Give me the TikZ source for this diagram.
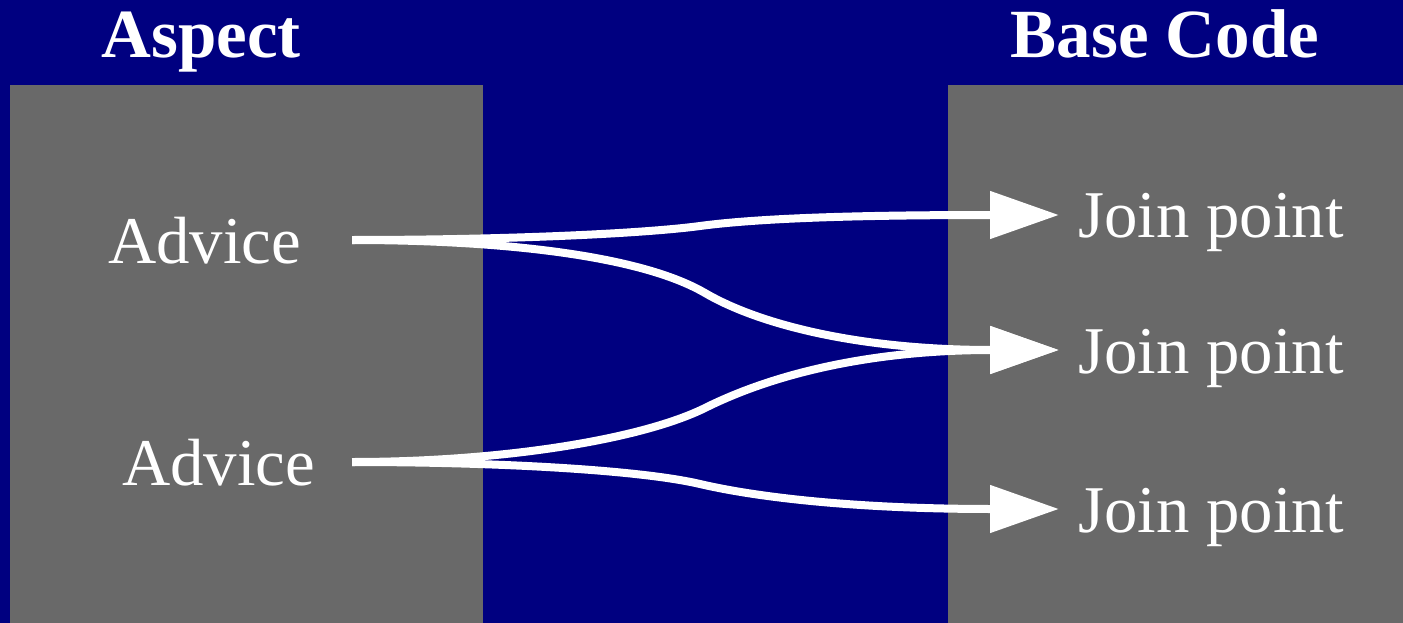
\documentclass[tikz,border=0pt]{standalone}
\usepackage{fontspec}
\setmainfont{Liberation Serif}
\usetikzlibrary{arrows.meta}
\definecolor{navybg}{HTML}{000080}
\definecolor{panelgray}{HTML}{696969}
\tikzset{
  panel/.style={fill=panelgray, draw=none},
  header/.style={text=white, inner sep=0pt, anchor=base, font=\bfseries\fontsize{69}{80}\selectfont},
  label/.style={text=white, inner sep=0pt, anchor=base, font=\fontsize{66.8}{80}\selectfont},
  link/.style={draw=white, line width=8pt, -{Triangle[length=69pt,width=46pt]}}
}
\begin{document}
\begin{tikzpicture}[x=1pt,y=-1pt]
\fill[navybg] (0,0) rectangle (1403,623);
\useasboundingbox (0,0) rectangle (1403,623);
\fill[panel] (10,85) rectangle (483,623);
\fill[panel] (948,85) rectangle (1403,623);
\node[header] (aspect) at (201,58) {Aspect};
\node[header] (base) at (1165,58) {Base Code};
\node[label] (adv1) at (204.5,263) {Advice};
\node[label] (adv2) at (218.5,485) {Advice};
\node[label] (jp1) at (1211,237) {Join point};
\node[label] (jp2) at (1211,373) {Join point};
\node[label] (jp3) at (1211,532) {Join point};
\coordinate (s1) at (352,240);
\coordinate (s2) at (352,462);
\coordinate (t1) at (1059,215);
\coordinate (t2) at (1059,350);
\coordinate (t3) at (1059,509);
\draw[link] (s1) .. controls (500,240) and (640,234) .. (700,226)
  .. controls (760,218) and (860,215) .. (t1);
\draw[link] (s1) .. controls (500,240) and (640,255) .. (705,293)
  .. controls (760,325) and (860,350) .. (t2);
\draw[link] (s2) .. controls (500,462) and (640,440) .. (705,408)
  .. controls (765,378) and (860,350) .. (t2);
\draw[link] (s2) .. controls (500,462) and (640,470) .. (700,484)
  .. controls (760,498) and (860,509) .. (t3);
\end{tikzpicture}
\end{document}
